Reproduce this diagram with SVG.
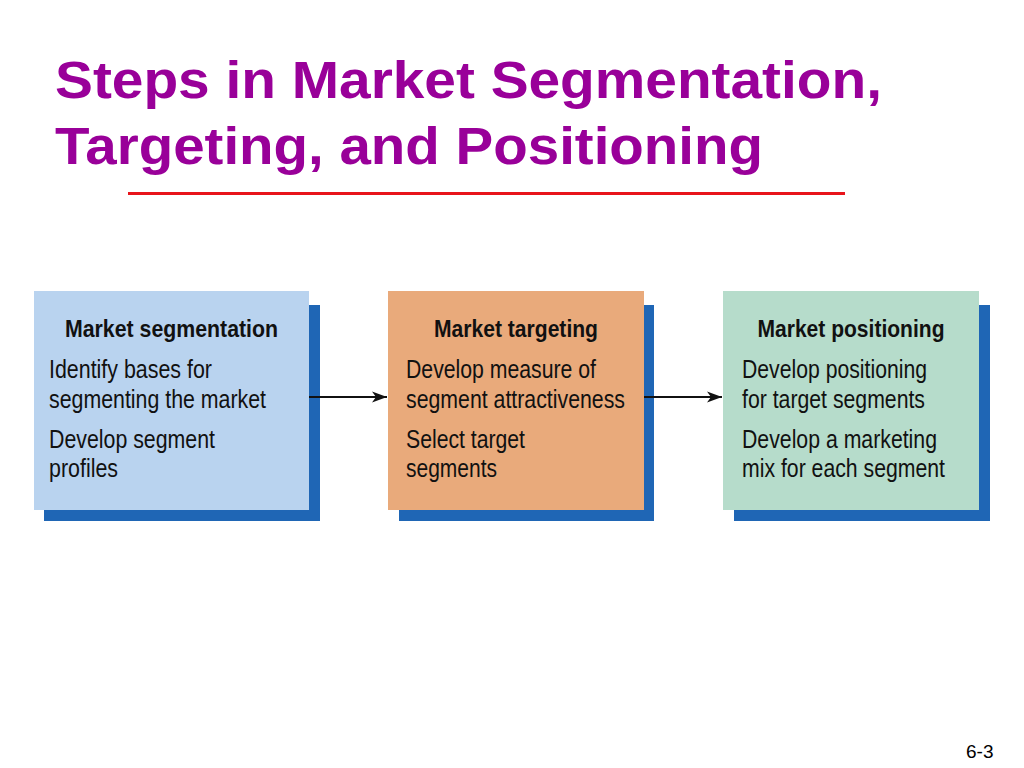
<svg xmlns="http://www.w3.org/2000/svg" width="1024" height="768" viewBox="0 0 1024 768">
<defs>
<style>
.title{font-family:"Liberation Sans",Arial,sans-serif;font-weight:bold;font-size:51px;fill:#990099}
.head{font-family:"Liberation Sans Narrow","Liberation Sans",Arial,sans-serif;font-weight:bold;font-size:24px;fill:#111}
.body{font-family:"Liberation Sans Narrow","Liberation Sans",Arial,sans-serif;font-size:25px;fill:#111}
.shadow{fill:#1f66b5}
.conn{stroke:#111;stroke-width:2;fill:none}
.foot{font-family:"Liberation Sans",Arial,sans-serif;font-size:19px;fill:#000}
</style>
<marker id="arr" markerWidth="16" markerHeight="12" refX="15" refY="6" orient="auto" markerUnits="userSpaceOnUse">
<path d="M0,0.5 L15,6 L0,11.5 L4,6 Z" fill="#111"/>
</marker>
</defs>
<rect width="1024" height="768" fill="#fff"/>
<g id="title">
<text class="title" x="55" y="98" textLength="827" lengthAdjust="spacingAndGlyphs">Steps in Market Segmentation,</text>
<text class="title" x="55" y="164" textLength="708" lengthAdjust="spacingAndGlyphs">Targeting, and Positioning</text>
<rect x="128" y="192" width="717" height="3" fill="#e8141b"/>
</g>
<g id="node-segmentation">
<rect class="shadow" x="44" y="305" width="276" height="216"/>
<rect x="34" y="291" width="275" height="219" fill="#b9d3ef"/>
<text class="head" x="171.5" y="337" text-anchor="middle" textLength="213" lengthAdjust="spacingAndGlyphs">Market segmentation</text>
<text class="body" x="49" y="378" textLength="163" lengthAdjust="spacingAndGlyphs">Identify bases for</text>
<text class="body" x="49" y="408" textLength="217" lengthAdjust="spacingAndGlyphs">segmenting the market</text>
<text class="body" x="49" y="448" textLength="166" lengthAdjust="spacingAndGlyphs">Develop segment</text>
<text class="body" x="49" y="477" textLength="69" lengthAdjust="spacingAndGlyphs">profiles</text>
</g>
<g id="node-targeting">
<rect class="shadow" x="399" y="305" width="255" height="216"/>
<rect x="388" y="291" width="256" height="219" fill="#e9aa7b"/>
<text class="head" x="516" y="337" text-anchor="middle" textLength="164" lengthAdjust="spacingAndGlyphs">Market targeting</text>
<text class="body" x="406" y="378" textLength="190" lengthAdjust="spacingAndGlyphs">Develop measure of</text>
<text class="body" x="406" y="408" textLength="219" lengthAdjust="spacingAndGlyphs">segment attractiveness</text>
<text class="body" x="406" y="448" textLength="119" lengthAdjust="spacingAndGlyphs">Select target</text>
<text class="body" x="406" y="477" textLength="91" lengthAdjust="spacingAndGlyphs">segments</text>
</g>
<g id="node-positioning">
<rect class="shadow" x="734" y="305" width="256" height="216"/>
<rect x="723" y="291" width="256" height="219" fill="#b6dccb"/>
<text class="head" x="851" y="337" text-anchor="middle" textLength="187" lengthAdjust="spacingAndGlyphs">Market positioning</text>
<text class="body" x="742" y="378" textLength="185" lengthAdjust="spacingAndGlyphs">Develop positioning</text>
<text class="body" x="742" y="408" textLength="183" lengthAdjust="spacingAndGlyphs">for target segments</text>
<text class="body" x="742" y="448" textLength="195" lengthAdjust="spacingAndGlyphs">Develop a marketing</text>
<text class="body" x="742" y="477" textLength="203" lengthAdjust="spacingAndGlyphs">mix for each segment</text>
</g>
<g id="connectors">
<line class="conn" x1="309" y1="397" x2="387" y2="397" marker-end="url(#arr)"/>
<line class="conn" x1="644" y1="397" x2="722" y2="397" marker-end="url(#arr)"/>
</g>
<text class="foot" x="966" y="758">6-3</text>
</svg>
